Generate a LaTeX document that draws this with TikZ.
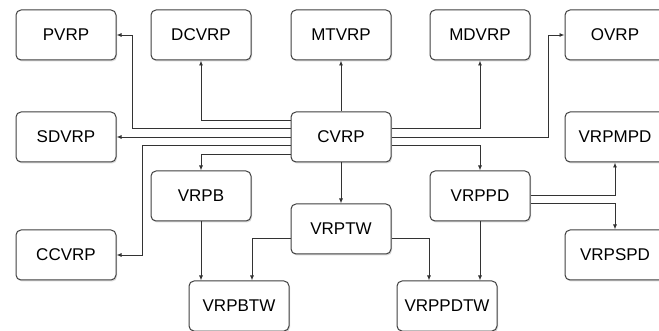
\documentclass[tikz,border=0pt]{standalone}
\usepackage{fontspec}
\setmainfont{Liberation Sans}
\usetikzlibrary{arrows.meta,shadows}

\tikzstyle{model}=[draw=black!75,fill=white,rounded corners=5pt,line width=1pt,minimum width=100pt,minimum height=50pt,inner sep=0pt,font=\fontsize{17}{20}\selectfont,drop shadow={shadow xshift=1pt,shadow yshift=-1.5pt,opacity=0.3}]
\tikzstyle{link}=[black!80,line width=0.9pt,-{Latex[length=5pt,width=4pt]}]

\begin{document}
\begin{tikzpicture}[x=1pt,y=-1pt]
    \useasboundingbox (0,0) rectangle (659,331);
    \node (pvrp)[model] at (66,35) {PVRP};
    \node (dcvrp)[model] at (201,35) {DCVRP};
    \node (mtvrp)[model] at (341,35) {MTVRP};
    \node (mdvrp)[model] at (480,35) {MDVRP};
    \node (ovrp)[model] at (615,35) {OVRP};
    \node (sdvrp)[model] at (66,137) {SDVRP};
    \node (cvrp)[model] at (341,137) {CVRP};
    \node (vrpmpd)[model] at (615,137) {VRPMPD};
    \node (vrpb)[model] at (201,196) {VRPB};
    \node (vrppd)[model] at (480,196) {VRPPD};
    \node (vrptw)[model] at (341,229) {VRPTW};
    \node (ccvrp)[model] at (66,255) {CCVRP};
    \node (vrpspd)[model] at (615,255) {VRPSPD};
    \node (vrpbtw)[model] at (239,306) {VRPBTW};
    \node (vrppdtw)[model] at (447,306) {VRPPDTW};
    % out of CVRP, left side
    \draw[link] ([yshift=17pt]cvrp.west) -| (dcvrp.south);
    \draw[link] ([yshift=8.5pt]cvrp.west) -| ([xshift=16pt]pvrp.east) -- (pvrp.east);
    \draw[link] (cvrp.west) -- (sdvrp.east);
    \draw[link] ([yshift=-8.5pt]cvrp.west) -| ([xshift=26pt]ccvrp.east) -- (ccvrp.east);
    \draw[link] ([yshift=-17pt]cvrp.west) -| (vrpb.north);
    % out of CVRP, up, down and right side
    \draw[link] (cvrp.north) -- (mtvrp.south);
    \draw[link] (cvrp.south) -- (vrptw.north);
    \draw[link] ([yshift=8.5pt]cvrp.east) -| (mdvrp.south);
    \draw[link] (cvrp.east) -| ([xshift=-16pt]ovrp.west) -- (ovrp.west);
    \draw[link] ([yshift=-8.5pt]cvrp.east) -| (vrppd.north);
    % lower part
    \draw[link] (vrpb.south) -- (vrpb.south |- vrpbtw.north);
    \draw[link] ([yshift=-9pt]vrptw.west) -| ([xshift=13pt]vrpbtw.north);
    \draw[link] ([yshift=-9pt]vrptw.east) -| ([xshift=-18pt]vrppdtw.north);
    \draw[link] (vrppd.south) -- (vrppd.south |- vrppdtw.north);
    \draw[link] ([yshift=1pt]vrppd.east) -| (vrpmpd.south);
    \draw[link] ([yshift=-7pt]vrppd.east) -| (vrpspd.north);
\end{tikzpicture}
\end{document}
